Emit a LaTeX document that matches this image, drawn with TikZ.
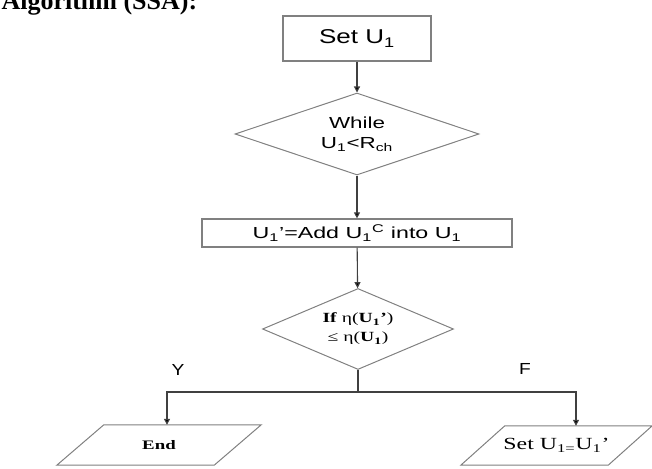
\documentclass[tikz,border=0pt]{standalone}
\usepackage{fontspec}
\setmainfont{Liberation Serif}
\setsansfont{Liberation Sans}
\usetikzlibrary{shapes.geometric,arrows.meta}
\definecolor{outl}{HTML}{808080}
\definecolor{conn}{HTML}{404040}
\newcommand\hstr[2]{\scalebox{#1}[1]{#2}}
\begin{document}
\begin{tikzpicture}[x=1pt,y=-1pt,
  box/.style={draw=outl, line width=1.2pt, rectangle, inner sep=0pt},
  dia/.style={draw=outl, line width=1pt, diamond, inner sep=0pt, align=center},
  para/.style={draw=none, rectangle, inner sep=0pt},
  parl/.style={draw=outl, line width=1pt},
  flow/.style={draw=conn, line width=1.1pt, -{Triangle[length=6pt,width=6pt,fill=black]}},
  plain/.style={draw=conn, line width=1.1pt},
  lab/.style={font=\sffamily\fontsize{16}{16}\selectfont}
  ]
\useasboundingbox (0,0) rectangle (652,468);
\clip (0,0) rectangle (652,468);
\node[anchor=base west, font=\fontsize{26}{26}\selectfont\bfseries] (title) at (-2,10) {Algorithm (SSA):};

\node[box, minimum width=148pt, minimum height=45pt, font=\sffamily\fontsize{20}{20}\selectfont] (s1) at (357,38.5) {\hstr{1.3}{Set U\textsubscript{1}}};

\node[dia, minimum width=244pt, minimum height=82pt, aspect=2.98, font=\sffamily\fontsize{16}{20}\selectfont] (d1) at (357,134) {\hstr{1.4}{While}\\\hstr{1.4}{U\textsubscript{1}<R\textsubscript{ch}}};

\node[box, minimum width=310pt, minimum height=28pt, font=\sffamily\fontsize{16}{16}\selectfont] (b2) at (357,233) {\hstr{1.45}{U\textsubscript{1}'=Add U\textsubscript{1}\textsuperscript{C} into U\textsubscript{1}}};

\node[dia, minimum width=191pt, minimum height=81pt, aspect=2.36, font=\fontsize{14}{19}\selectfont] (d2) at (358,329) {\hstr{1.4}{\textbf{If} η(\textbf{U}\textsubscript{\textbf{1}}\textbf{'})}\\\hstr{1.4}{≤ η(\textbf{U}\textsubscript{\textbf{1}})}};

\node[para, minimum width=157pt, minimum height=40pt, font=\fontsize{13}{13}\selectfont\bfseries] (endn) at (159,445) {\hstr{1.45}{End}};
\draw[parl] ([xshift=23.5pt]endn.north west) -- ([xshift=23.5pt]endn.north east) -- ([xshift=-23.5pt]endn.south east) -- ([xshift=-23.5pt]endn.south west) -- cycle;

\node[para, minimum width=147pt, minimum height=39pt, font=\fontsize{17}{17}\selectfont] (setn) at (556.5,445.5) {\hstr{1.4}{Set U\textsubscript{1=}U\textsubscript{1}'}};
\draw[parl] ([xshift=22pt]setn.north west) -- ([xshift=22pt]setn.north east) -- ([xshift=-22pt]setn.south east) -- ([xshift=-22pt]setn.south west) -- cycle;

\draw[flow] (s1) -- (d1);
\draw[flow] (d1) -- (b2);
\draw[flow] (b2) -- (d2);

\coordinate (br) at (358,392);
\coordinate (brL) at (167,392);
\coordinate (brR) at (576,392);
\draw[plain] (d2.south) -- (br);
\draw[flow] (br) -- (brL) -- (brL |- endn.north);
\draw[flow] (br) -- (brR) -- (brR |- setn.north);

\node[lab] (ylab) at (178,370) {\hstr{1.2}{Y}};
\node[lab] (flab) at (525,369) {\hstr{1.2}{F}};
\end{tikzpicture}
\end{document}
